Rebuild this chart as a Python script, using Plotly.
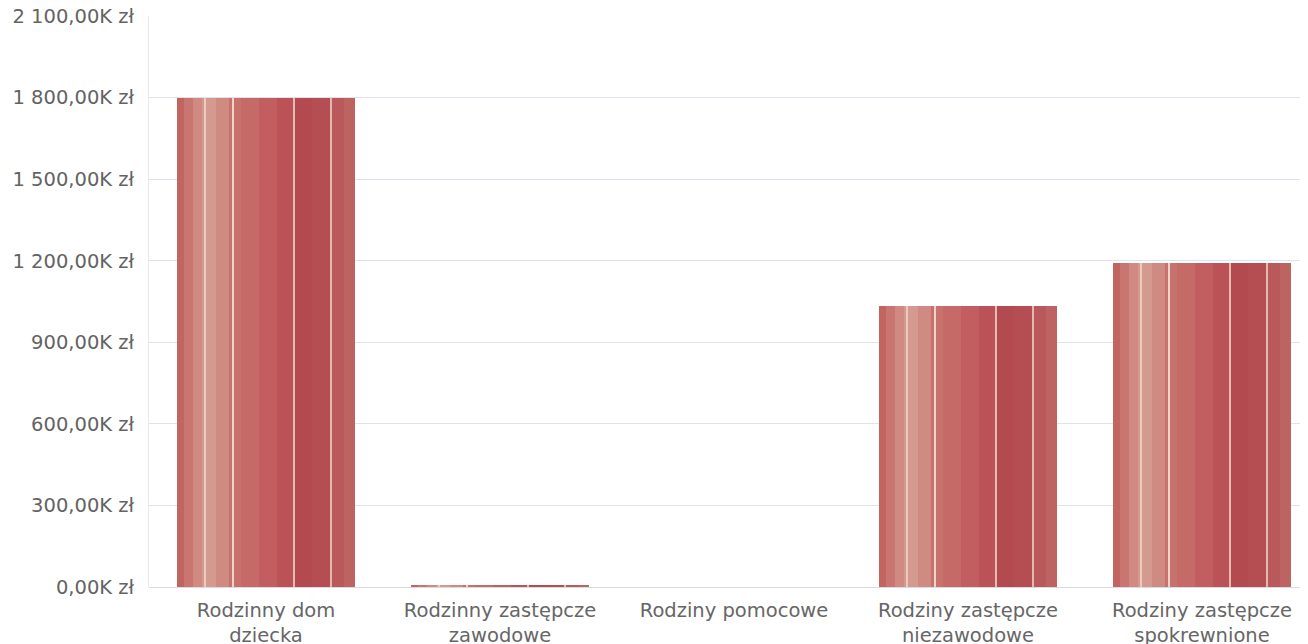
import plotly.graph_objects as go

categories = ["Rodzinny dom<br>dziecka", "Rodzinny zastępcze<br>zawodowe", "Rodziny pomocowe",
              "Rodziny zastępcze<br>niezawodowe", "Rodziny zastępcze<br>spokrewnione"]
values_k = [1800, 9, 0, 1034, 1192]
tick_vals = [0, 300, 600, 900, 1200, 1500, 1800, 2100]
tick_text = ["0,00K zł", "300,00K zł", "600,00K zł", "900,00K zł", "1 200,00K zł",
             "1 500,00K zł", "1 800,00K zł", "2 100,00K zł"]

BAR_W = 0.76
# gradient slices across the bar: (start fraction, end fraction, colour)
slices = [
    (0.00, 0.04, "#c2645f"), (0.04, 0.09, "#c97670"), (0.09, 0.14, "#d08a82"),
    (0.14, 0.22, "#d49a90"), (0.22, 0.29, "#cf8a82"), (0.29, 0.36, "#c8726e"),
    (0.36, 0.46, "#c66a68"), (0.46, 0.56, "#c25e60"), (0.56, 0.66, "#bb5257"),
    (0.66, 0.76, "#b24a4f"), (0.76, 0.86, "#b44e52"), (0.86, 0.94, "#b9595b"),
    (0.94, 1.00, "#bd6462"),
]
stripes = [(0.15, 0.012, "#ebcbc0"), (0.31, 0.010, "#edd3c8"),
           (0.655, 0.009, "#e6bcb2"), (0.86, 0.010, "#e4b8ae")]

fig = go.Figure()
for a, b, c in slices:
    fig.add_trace(go.Bar(x=list(range(len(categories))), y=values_k,
                         width=BAR_W * (b - a), offset=-BAR_W / 2 + BAR_W * a,
                         marker=dict(color=c, line=dict(width=0)),
                         hoverinfo="skip", showlegend=False))
for pos, w, c in stripes:
    fig.add_trace(go.Bar(x=list(range(len(categories))), y=values_k,
                         width=BAR_W * w, offset=-BAR_W / 2 + BAR_W * pos,
                         marker=dict(color=c, line=dict(width=0)),
                         hoverinfo="skip", showlegend=False))

font_family = "DejaVu Sans, Verdana, sans-serif"
fig.update_layout(
    width=1308, height=644,
    margin=dict(l=141, r=0, t=8, b=65, autoexpand=False),
    barmode="overlay",
    bargap=0,
    plot_bgcolor="white", paper_bgcolor="white",
    font=dict(family=font_family, size=19.5, color="#636363"),
    xaxis=dict(tickmode="array", tickvals=list(range(len(categories))), ticktext=categories,
               range=[-0.5, -0.5 + 1167 / 234], showgrid=False, zeroline=False,
               showline=False, ticks="", ticklabelstandoff=9, ticklabeloverflow="allow",
               automargin=False, tickfont=dict(size=19.5, color="#666666")),
    yaxis=dict(range=[0, 2100], tickvals=tick_vals, ticktext=tick_text,
               showgrid=True, gridcolor="#dfe2ea", gridwidth=1,
               zeroline=True, zerolinecolor="#d8dbe2", zerolinewidth=1,
               showline=True, linecolor="#e6e8ee", linewidth=1,
               ticks="", ticklabelstandoff=10, ticklabeloverflow="allow",
               automargin=False, tickfont=dict(size=19.5, color="#636363")),
)
fig.write_html("out.html")
